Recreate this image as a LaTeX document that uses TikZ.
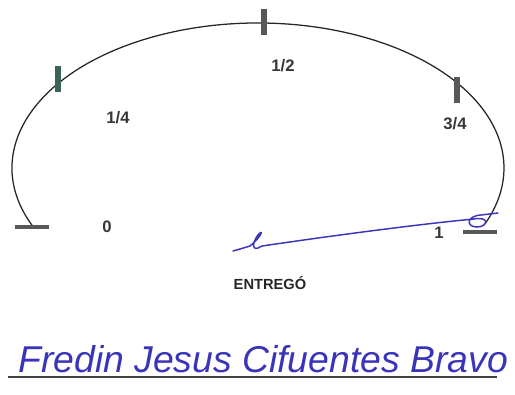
\documentclass[tikz,border=0pt]{standalone}
\usepackage{fontspec}
\setmainfont{Liberation Sans}
\usetikzlibrary{positioning}
\definecolor{tickgray}{RGB}{88,88,88}
\definecolor{tickgreen}{RGB}{58,100,86}
\definecolor{labgray}{RGB}{55,55,55}
\definecolor{inkblue}{RGB}{58,52,185}

\begin{document}
\begin{tikzpicture}[x=0.75pt, y=-0.75pt,
  vtick/.style={fill=#1, inner sep=0pt, minimum width=4pt, minimum height=19pt},
  htick/.style={fill=tickgray, inner sep=0pt, minimum width=26pt, minimum height=3.6pt},
  lab/.style={text=labgray, font=\fontsize{12.5}{14}\selectfont\bfseries, inner sep=1pt},
  sig/.style={inkblue, line width=1.1pt, line cap=round, line join=round}]
\useasboundingbox (0,0) rectangle (515,394);
\coordinate (c) at (258,168);
\draw[line width=0.95pt, black!85] ([shift={(203.8:184.5pt and 108.75pt)}]c)
  arc[start angle=203.8, end angle=-22.6, x radius=184.5pt, y radius=108.75pt];
\node[htick] (t0) at (32,227) {};
\node[vtick=tickgreen] (t14) at (58,79) {};
\node[vtick=tickgray] (t12) at (264,22) {};
\node[vtick=tickgray] (t34) at (457,90) {};
\node[htick] (t1) at (480,232) {};
\node[lab] (l0) at (107,227) {0};
\node[lab] (l14) at (118,118) {1/4};
\node[lab] (l12) at (283,66) {1/2};
\node[lab] (l34) at (455,124) {3/4};
\node[lab] (l1) at (439,233) {1};
\node[text=black!85, font=\fontsize{11}{13}\selectfont\bfseries] (entrego) at (270,283) {ENTREGÓ};
\draw[sig] (233,251) .. controls (240,249) .. (250,246)
  .. controls (262,236) and (264,228) .. (258,235)
  .. controls (252,243) and (251,253) .. (262,246)
  .. controls (330,236) and (420,224) .. (474,219)
  .. controls (490,216) and (488,227) .. (477,227)
  .. controls (466,227) and (466,216) .. (481,215) -- (498,213);
\node[text=inkblue, font=\fontsize{28}{32}\selectfont\itshape, anchor=base west, inner sep=0pt] (name) at (18,372) {Fredin Jesus Cifuentes Bravo};
\coordinate (u0) at (8,377);
\coordinate (u1) at (497,377);
\draw[line width=0.8pt, black!75] (u0) -- (u1);
\end{tikzpicture}
\end{document}
